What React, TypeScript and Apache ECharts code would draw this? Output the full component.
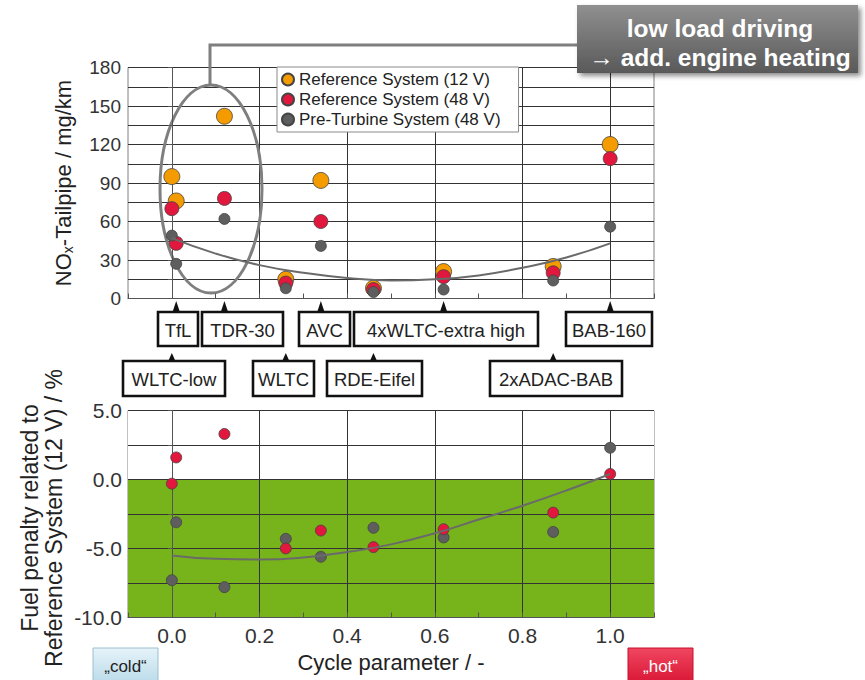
import React, { useEffect, useRef } from 'react';
import * as echarts from 'echarts';

// Driving cycles and their cycle parameter (0 = cold, 1 = hot)
const cycles = ['WLTC-low', 'TfL', 'TDR-30', 'WLTC', 'AVC', 'RDE-Eifel', '4xWLTC-extra high', '2xADAC-BAB', 'BAB-160'];
const cycleParam = [0.0, 0.01, 0.12, 0.26, 0.34, 0.46, 0.62, 0.87, 1.0];

// NOx tailpipe emissions, mg/km
const noxRef12 = [95, 76, 142, 15, 92, 8, 21, 25, 120];
const noxRef48 = [70, 43, 78, 12, 60, 7, 17, 20, 109];
const noxPreTurbine48 = [49, 27, 62, 8, 41, 5, 7, 14, 56];

// Fuel penalty related to the 12 V reference system, %
const fuelRef48 = [-0.3, 1.6, 3.3, -5.0, -3.7, -4.9, -3.6, -2.4, 0.4];
const fuelPreTurbine48 = [-7.3, -3.1, -7.8, -4.3, -5.6, -3.5, -4.2, -3.8, 2.3];

// Trend curves (pre-turbine system)
const trendX = [0, 0.1, 0.2, 0.3, 0.4, 0.5, 0.6, 0.7, 0.8, 0.9, 1.0];
const noxTrend = [47, 35, 26, 20, 16, 14, 15, 18, 24, 32, 43];
const fuelTrend = [-5.5, -5.75, -5.8, -5.65, -5.25, -4.7, -3.9, -2.9, -1.9, -0.8, 0.4];

// Labelled ticks
const noxTickLabels = [0, 30, 60, 90, 120, 150, 180];
const fuelTickLabels = [-10, -5, 0, 5];
const cycleTickLabels = [0, 0.2, 0.4, 0.6, 0.8, 1.0];

const SERIES_NAMES = ['Reference System (12 V)', 'Reference System (48 V)', 'Pre-Turbine System (48 V)'];

// Layout of the cycle tags below the NOx chart
const TAG_LAYOUT: Record<string, { left: number; width: number; row: number }> = {
  'TfL': { left: 158, width: 40, row: 0 },
  'TDR-30': { left: 202, width: 81, row: 0 },
  'AVC': { left: 299, width: 51, row: 0 },
  '4xWLTC-extra high': { left: 354, width: 184, row: 0 },
  'BAB-160': { left: 566, width: 86, row: 0 },
  'WLTC-low': { left: 123, width: 102, row: 1 },
  'WLTC': { left: 253, width: 61, row: 1 },
  'RDE-Eifel': { left: 327, width: 95, row: 1 },
  '2xADAC-BAB': { left: 490, width: 132, row: 1 },
};
const TAG_ROWS = [
  { top: 312, height: 34, tip: 301 },
  { top: 361, height: 35, tip: 353 },
];

const FONT = 'Arial, "Liberation Sans", Helvetica, sans-serif';
const ORANGE = '#f49b00';
const RED = '#e2173d';
const GREY = '#5e5e5e';
const GREEN = '#77b41c';
const GRID_LINE = '#333333';

const zip = (xs: number[], ys: number[]) => xs.map((x, i) => [x, ys[i]]);
const near = (list: number[], v: number) => list.some((t) => Math.abs(t - v) < 1e-6);

function xAxisFor(gridIndex: number, showLabels: boolean) {
  return {
    type: 'value',
    gridIndex,
    min: -0.1,
    max: 1.1,
    interval: 0.1,
    axisLine: { show: true, onZero: false, lineStyle: { color: '#555', width: 1 } },
    axisTick: { show: true, inside: true, length: 5, lineStyle: { color: '#555' } },
    splitLine: { show: true, lineStyle: { color: ['rgba(0,0,0,0)', GRID_LINE], width: 1 } },
    axisLabel: {
      show: showLabels,
      margin: 7,
      fontSize: 21,
      color: '#333',
      fontFamily: FONT,
      formatter: (v: number) => (near(cycleTickLabels, v) ? v.toFixed(1) : ''),
    },
  };
}

export default function App() {
  const ref = useRef<HTMLDivElement>(null);

  useEffect(() => {
    if (!ref.current) return;
    const chart = echarts.init(ref.current, undefined, { renderer: 'svg' });

    const scatter = (name: string, xIndex: number, data: number[][], color: string, size: number) => ({
      name,
      type: 'scatter',
      xAxisIndex: xIndex,
      yAxisIndex: xIndex,
      data,
      symbolSize: size,
      itemStyle: { color, borderColor: '#444', borderWidth: 0.8, opacity: 1 },
      silent: true,
    });
    const trend = (xIndex: number, data: number[][]) => ({
      type: 'line',
      xAxisIndex: xIndex,
      yAxisIndex: xIndex,
      data,
      smooth: true,
      symbol: 'none',
      lineStyle: { color: '#6a6a6a', width: 2 },
      silent: true,
    });

    const option: any = {
      animation: false,
      backgroundColor: '#fff',
      textStyle: { fontFamily: FONT },
      grid: [
        { left: 128, top: 67.5, width: 526, height: 231, show: true, borderColor: '#808080', borderWidth: 1 },
        { left: 128, top: 410.5, width: 526, height: 207, show: true, borderColor: '#808080', borderWidth: 1 },
      ],
      xAxis: [xAxisFor(0, false), xAxisFor(1, true)],
      yAxis: [
        {
          type: 'value',
          gridIndex: 0,
          min: 0,
          max: 180,
          interval: 15,
          axisLine: { show: true, lineStyle: { color: '#555' } },
          axisTick: { show: true, length: 4, lineStyle: { color: '#555' } },
          splitLine: { show: true, lineStyle: { color: GRID_LINE, width: 1 } },
          axisLabel: {
            margin: 7,
            fontSize: 19,
            color: '#333',
            fontFamily: FONT,
            formatter: (v: number) => (near(noxTickLabels, v) ? String(v) : ''),
          },
        },
        {
          type: 'value',
          gridIndex: 1,
          min: -10,
          max: 5,
          interval: 2.5,
          axisLine: { show: true, lineStyle: { color: '#555' } },
          axisTick: { show: true, length: 4, lineStyle: { color: '#555' } },
          splitLine: { show: true, lineStyle: { color: GRID_LINE, width: 1 } },
          splitArea: { show: true, areaStyle: { color: [GREEN, GREEN, GREEN, GREEN, '#ffffff', '#ffffff'] } },
          axisLabel: {
            margin: 6,
            fontSize: 21,
            color: '#333',
            fontFamily: FONT,
            formatter: (v: number) => (near(fuelTickLabels, v) ? v.toFixed(1) : ''),
          },
        },
      ],
      legend: {
        left: 277,
        top: 67,
        orient: 'vertical',
        backgroundColor: '#fff',
        borderColor: '#8a8a8a',
        borderWidth: 1,
        padding: [4, 18, 4, 4],
        itemGap: 3,
        itemWidth: 12,
        itemHeight: 12,
        icon: 'circle',
        selectedMode: false,
        textStyle: { fontSize: 17, lineHeight: 17, color: '#222', fontFamily: FONT },
        data: SERIES_NAMES,
      },
      series: [
        trend(0, zip(trendX, noxTrend)),
        scatter(SERIES_NAMES[0], 0, zip(cycleParam, noxRef12), ORANGE, 16),
        scatter(SERIES_NAMES[1], 0, zip(cycleParam, noxRef48), RED, 14),
        scatter(SERIES_NAMES[2], 0, zip(cycleParam, noxPreTurbine48), GREY, 11),
        trend(1, zip(trendX, fuelTrend)),
        scatter(SERIES_NAMES[2], 1, zip(cycleParam, fuelPreTurbine48), GREY, 11),
        scatter(SERIES_NAMES[1], 1, zip(cycleParam, fuelRef48), RED, 11),
      ],
    };
    chart.setOption(option);

    const px = (x: number) => chart.convertToPixel({ xAxisIndex: 0 }, x) as number;

    const tagElements: any[] = [];
    cycles.forEach((name, i) => {
      const lay = TAG_LAYOUT[name];
      const row = TAG_ROWS[lay.row];
      const cx = px(cycleParam[i]);
      tagElements.push({
        type: 'polygon',
        shape: { points: [[cx - 4, row.top + 1], [cx + 4, row.top + 1], [cx, row.tip]] },
        style: { fill: '#111' },
        silent: true,
      });
      tagElements.push({
        type: 'rect',
        shape: { x: lay.left, y: row.top, width: lay.width, height: row.height },
        style: { fill: '#fff', stroke: '#111', lineWidth: 2.6 },
        silent: true,
      });
      tagElements.push({
        type: 'text',
        x: lay.left + lay.width / 2,
        y: row.top + row.height / 2 + 1,
        style: { text: name, fontSize: 18.5, fontFamily: FONT, fill: '#222', align: 'center', verticalAlign: 'middle' },
        silent: true,
      });
    });

    chart.setOption({
      graphic: [
        // connector from the highlighted cold cycles to the note
        {
          type: 'polyline',
          shape: { points: [[210, 85], [210, 45], [580, 45]] },
          style: { stroke: '#7f7f7f', lineWidth: 3, fill: 'none' },
          silent: true,
        },
        {
          type: 'ellipse',
          shape: { cx: 211, cy: 189, rx: 51, ry: 104 },
          style: { stroke: '#7f7f7f', lineWidth: 3, fill: 'none' },
          silent: true,
        },
        {
          type: 'rect',
          shape: { x: 577, y: 5, width: 281, height: 68 },
          style: {
            fill: new echarts.graphic.LinearGradient(0, 0, 0, 1, [
              { offset: 0, color: '#909090' },
              { offset: 1, color: '#595959' },
            ]),
            shadowBlur: 5,
            shadowOffsetX: 3,
            shadowOffsetY: 3,
            shadowColor: 'rgba(0,0,0,0.45)',
          },
          silent: true,
        },
        {
          type: 'text',
          x: 720,
          y: 28,
          style: { text: 'low load driving', fontSize: 24.5, fontWeight: 'bold', fontFamily: FONT, fill: '#fff', align: 'center', verticalAlign: 'middle' },
          silent: true,
        },
        {
          type: 'text',
          x: 720,
          y: 57,
          style: { text: '→ add. engine heating', fontSize: 24.5, fontWeight: 'bold', fontFamily: FONT, fill: '#fff', align: 'center', verticalAlign: 'middle' },
          silent: true,
        },
        ...tagElements,
        // axis titles
        {
          type: 'text',
          x: 63,
          y: 183,
          rotation: Math.PI / 2,
          style: {
            text: '{a|NO}{s|x}{a|-Tailpipe / mg/km}',
            align: 'center',
            verticalAlign: 'middle',
            rich: {
              a: { fontSize: 22, fontFamily: FONT, fill: '#222' },
              s: { fontSize: 14, fontFamily: FONT, fill: '#222', padding: [9, 0, 0, 0] },
            },
          },
          silent: true,
        },
        {
          type: 'text',
          x: 42,
          y: 518,
          rotation: Math.PI / 2,
          style: {
            text: 'Fuel penalty related to\nReference System (12 V) / %',
            fontSize: 23,
            lineHeight: 24,
            fontFamily: FONT,
            fill: '#222',
            align: 'center',
            verticalAlign: 'middle',
          },
          silent: true,
        },
        {
          type: 'text',
          x: 391,
          y: 662,
          style: { text: 'Cycle parameter / -', fontSize: 22, fontFamily: FONT, fill: '#222', align: 'center', verticalAlign: 'middle' },
          silent: true,
        },
        // cold / hot markers
        {
          type: 'rect',
          shape: { x: 93, y: 648, width: 65, height: 40 },
          style: {
            fill: new echarts.graphic.LinearGradient(0, 0, 0, 1, [
              { offset: 0, color: '#e6f3f9' },
              { offset: 1, color: '#b4d7e7' },
            ]),
            stroke: '#9bbfcf',
            lineWidth: 1,
          },
          silent: true,
        },
        {
          type: 'text',
          x: 125.5,
          y: 666,
          style: { text: '„cold“', fontSize: 17, fontFamily: FONT, fill: '#222', align: 'center', verticalAlign: 'middle' },
          silent: true,
        },
        {
          type: 'rect',
          shape: { x: 628, y: 648, width: 65, height: 40 },
          style: {
            fill: new echarts.graphic.LinearGradient(0, 0, 0, 1, [
              { offset: 0, color: '#f04660' },
              { offset: 1, color: '#d5102f' },
            ]),
            stroke: '#c80f2c',
            lineWidth: 1,
          },
          silent: true,
        },
        {
          type: 'text',
          x: 660.5,
          y: 666,
          style: { text: '„hot“', fontSize: 17, fontFamily: FONT, fill: '#fff', align: 'center', verticalAlign: 'middle' },
          silent: true,
        },
      ],
    });

    return () => chart.dispose();
  }, []);

  return (
    <div
      ref={ref}
      style={{ position: 'fixed', left: 0, top: 0, width: 865, height: 680, background: '#fff' }}
    />
  );
}
